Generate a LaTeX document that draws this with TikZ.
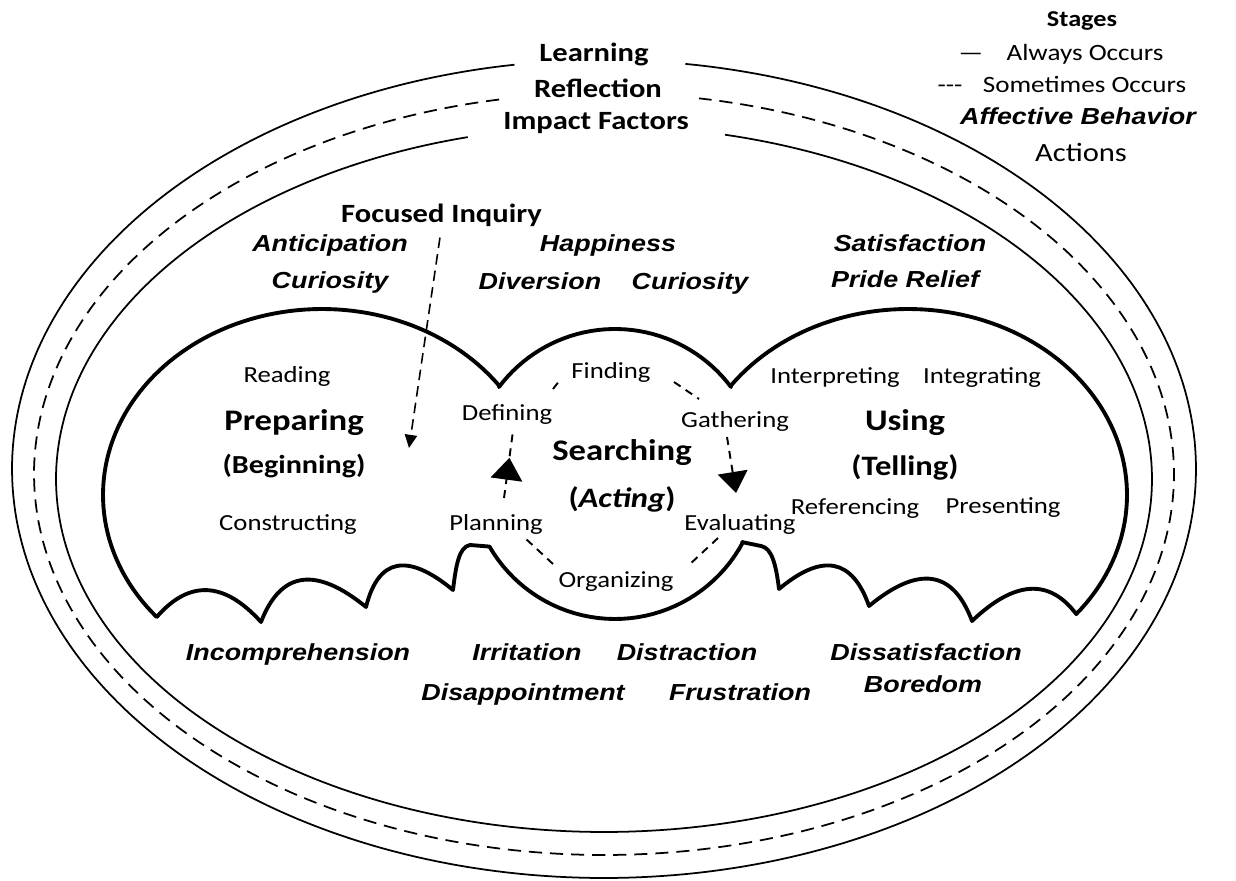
\documentclass[tikz,border=0pt]{standalone}
\usepackage{fontspec}
\usetikzlibrary{arrows.meta,decorations.markings}
\newfontfamily\calf[FakeStretch=1.16]{Carlito}
\newfontfamily\arif[FakeStretch=1.16]{Liberation Sans}
\begin{document}
\begin{tikzpicture}[x=0.02cm,y=-0.02cm,
  every node/.style={inner sep=0pt, outer sep=0pt, anchor=base},
  emo/.style={font=\arif\bfseries\itshape\fontsize{13.2}{15}\selectfont},
  act/.style={font=\calf\fontsize{13.1}{15}\selectfont},
  stg/.style={font=\calf\bfseries\fontsize{17}{19}\selectfont},
  paren/.style={font=\calf\bfseries\fontsize{16}{19}\selectfont},
  lvl/.style={font=\calf\bfseries\fontsize{15}{18}\selectfont},
  leg/.style={font=\calf\fontsize{13.3}{15}\selectfont},
  legb/.style={font=\calf\bfseries\fontsize{12.9}{15}\selectfont},
  legbig/.style={font=\calf\fontsize{15}{17}\selectfont},
  ring/.style={line width=1pt},
  ringd/.style={line width=1pt, dash pattern=on 7.5pt off 4.5pt},
  lobe/.style={line width=2.2pt, line join=round},
  cyc/.style={line width=1.1pt, dash pattern=on 4.5pt off 3.5pt},
  fid/.style={line width=0.9pt, dash pattern=on 6pt off 3.5pt},
  bigtip/.style={-{Triangle[length=12pt,width=17pt]}}
]
\path[use as bounding box, fill=white] (0,0) rectangle (1236,881);

% rings
\draw[ring] plot[domain=98.7:442.1, samples=300, variable=\t] ({604+592*cos(\t)},{469-409*sin(\t)});
\draw[ringd] plot[domain=100.6:440.4, samples=300, variable=\t] ({604+570*cos(\t)},{474-381*sin(\t)});
\draw[ring] plot[domain=104.4:437.25, samples=300, variable=\t] ({604+548*cos(\t)},{479-353*sin(\t)});

% lobed shape
\draw[lobe] plot[domain=0:1, samples=90, variable=\t] ({322+219*cos(221-184.9*\t)},{495-186*sin(221-184.9*\t)})
 -- plot[domain=0:1, samples=40, variable=\t] ({615+145*cos(143.13-106.26*\t)},{474-145*sin(143.13-106.26*\t)})
 -- plot[domain=0:1, samples=90, variable=\t] ({908+219*cos(143.9-183.8*\t)},{495-186*sin(143.9-183.8*\t)})
 .. controls (1049.3,578.3) and (1014.7,580.3) .. (972,621)
 .. controls (953,570) and (918.7,565) .. (869,606)
 .. controls (852.3,558.3) and (822.3,552.7) .. (779,589)
 .. controls (776,565) and (772,548) .. (761,546)
 -- (742,542.1)
 -- plot[domain=0:1, samples=40, variable=\t] ({615+145*cos(332-122*\t)},{474-145*sin(332-122*\t)})
 -- (470,545)
 .. controls (459,547) and (456,565) .. (453,590)
 .. controls (407.3,552.3) and (378.3,558) .. (366,607)
 .. controls (315.7,566) and (280.7,571) .. (261,622)
 .. controls (223.7,580.7) and (189,580) .. (156.7,617) -- cycle;

% top labels
\node[lvl] (learn) at (594,62) {Learning};
\node[lvl] (refl) at (598,98) {Reflection};
\node[lvl] (impact) at (596,130) {Impact Factors};

% legend
\node[legb] (stages) at (1082,27) {Stages};
\node[leg] (lgA) at (971,61) {—};
\node[leg] (always) at (1085,61) {Always Occurs};
\node[leg] (lgB) at (950,93) {-{}-{}-};
\node[leg] (sometimes) at (1084.5,93) {Sometimes Occurs};
\node[emo] (affect) at (1078,125) {Affective Behavior};
\node[legbig] (actions) at (1081,162) {Actions};

% focused inquiry
\node[lvl] (fi) at (441.5,223) {Focused Inquiry};
\coordinate (fitip) at (409,448);
\draw[fid, shorten <=6pt, -{Triangle[length=7.5pt,width=7pt]}] (fi.south) -- (fitip);

% affective behaviours
\node[emo] (ant) at (330,252) {Anticipation};
\node[emo] (cur1) at (330,289) {Curiosity};
\node[emo] (hap) at (608,252) {Happiness};
\node[emo] (div) at (540,290) {Diversion};
\node[emo] (cur2) at (690,290) {Curiosity};
\node[emo] (sat) at (910,252) {Satisfaction};
\node[emo] (pride) at (905,288) {Pride Relief};
\node[emo] (incomp) at (298,660) {Incomprehension};
\node[emo] (irr) at (527,660) {Irritation};
\node[emo] (distr) at (687,660) {Distraction};
\node[emo] (dissat) at (926,660) {Dissatisfaction};
\node[emo] (disap) at (523,700) {Disappointment};
\node[emo] (frus) at (740,700) {Frustration};
\node[emo] (bore) at (923,692) {Boredom};

% stages
\node[stg] (prep) at (294,430) {Preparing};
\node[paren, font=\calf\bfseries\fontsize{14.8}{18}\selectfont] (beg) at (294,473) {(Beginning)};
\node[stg] (search) at (622,460) {Searching};
\node[paren] (acting) at (622,507) {(\textit{Acting})};
\node[stg] (using) at (905,430) {Using};
\node[paren] (tell) at (905,475) {(Telling)};

% actions
\node[act] (read) at (287,382) {Reading};
\node[act] (cons) at (288,530) {Constructing};
\node[act] (def) at (507,420) {Defining};
\node[act] (find) at (611,378) {Finding};
\node[act] (gath) at (735,427) {Gathering};
\node[act] (eval) at (740,530) {Evaluating};
\node[act] (org) at (616,587) {Organizing};
\node[act] (plan) at (496,530) {Planning};
\node[act] (interp) at (835,383) {Interpreting};
\node[act] (integ) at (982,383) {Integrating};
\node[act] (refer) at (855,514) {Referencing};
\node[act] (pres) at (1003,513) {Presenting};

% searching cycle
\coordinate (c1a) at (553,389); \coordinate (c1b) at (560,380);
\coordinate (c2a) at (674,382); \coordinate (c2b) at (699,399);
\coordinate (c3a) at (727,437); \coordinate (c3b) at (736,493);
\coordinate (c4a) at (718,538); \coordinate (c4b) at (689,565);
\coordinate (c5a) at (553,564); \coordinate (c5b) at (526,539);
\coordinate (c6a) at (504,498); \coordinate (c6b) at (513,431);
\draw[cyc] (c1a) -- (c1b);
\draw[cyc] (c2a) -- (c2b);
\draw[cyc, bigtip] (c3a) -- (c3b);
\draw[cyc] (c4a) -- (c4b);
\draw[cyc] (c5a) -- (c5b);
\draw[cyc, postaction={decorate, decoration={markings, mark=at position 0.6 with {\arrow{Triangle[length=12.5pt,width=18pt]}}}}] (c6a) -- (c6b);
\end{tikzpicture}
\end{document}
